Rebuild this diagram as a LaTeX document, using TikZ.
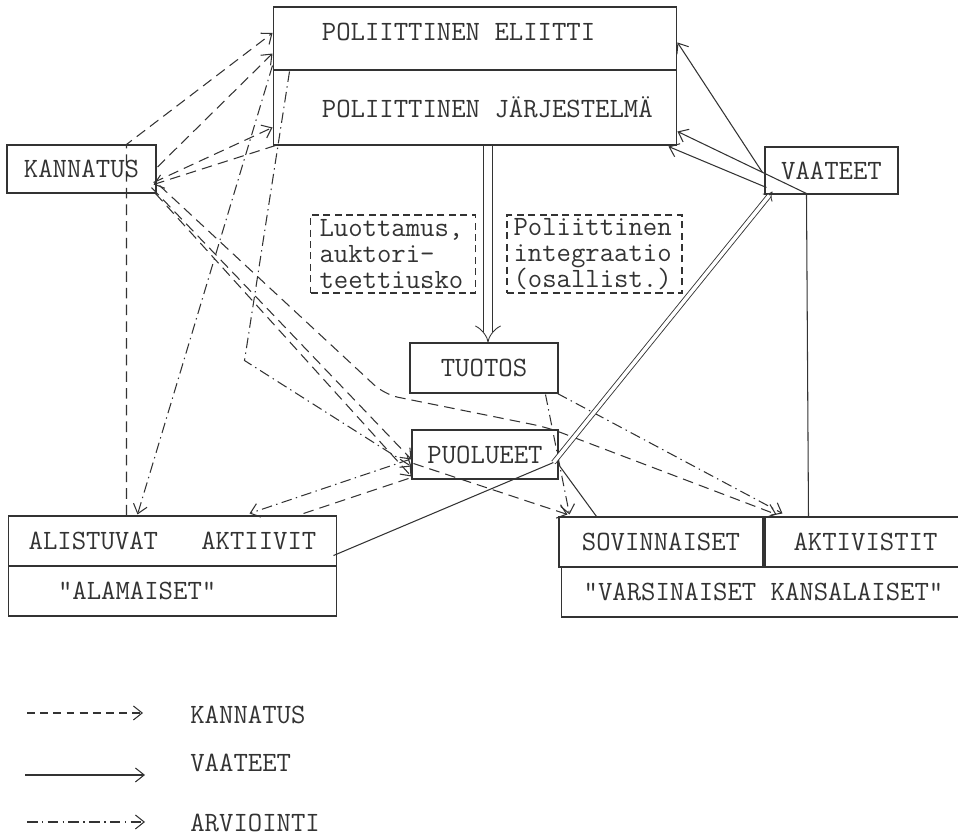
\documentclass[tikz,border=0pt]{standalone}
\usepackage{fontspec}
\usetikzlibrary{calc,arrows.meta}
\colorlet{ink}{black!80}
\newcommand{\boxfont}{\ttfamily\fontsize{15.9pt}{15pt}\selectfont}
\tikzset{
	box/.style={draw=ink, line width=0.6pt, minimum height=1cm, inner sep=0pt, font=\boxfont, text=ink},
	dbox/.style={box, dash pattern=on 4pt off 2.5pt, align=left},
	lbl/.style={font=\boxfont, text=ink, inner sep=0pt},
	kan/.style={ink, line width=0.6pt, dash pattern=on 6pt off 3.5pt},
	vaa/.style={ink, line width=0.6pt},
	arv/.style={ink, line width=0.6pt, dash pattern=on 6pt off 2.5pt on 0.8pt off 2.5pt},
	arr/.style={-{Straight Barb[length=5pt,width=8pt]}},
	dbl/.style={draw=ink, double=white, line width=0.5pt, -{Implies}},
}

\begin{document}
\begin{tikzpicture}[x=0.02cm, y=-0.02cm]
	\useasboundingbox (0,0) rectangle (958,837);
	
	\node[box, minimum width=8.08cm, minimum height=1.26cm] (elite) at (475,38.5) {};
	\node[box, minimum width=8.08cm, minimum height=1.5cm] (sys) at (475,107.5) {};
	\node[lbl, anchor=west] (eliteT) at ($(elite.west)+(49,-6.5)$) {POLIITTINEN ELIITTI};
	\node[lbl, anchor=west] (sysT) at ($(sys.west)+(49,0)$) {POLIITTINEN JÄRJESTELMÄ};
	
	\node[box, minimum width=2.98cm, minimum height=0.96cm] (kann) at (81.5,169) {KANNATUS};
	\node[box, minimum width=2.66cm, minimum height=0.94cm] (vaat) at (831.5,170.5) {VAATEET};
	
	\node[dbox, text width=2.94cm, inner xsep=0.18cm, minimum height=1.56cm] (luot) at (393,254) {Luottamus,\\auktori-\\teettiusko};
	\node[dbox, text width=3.24cm, inner xsep=0.13cm, minimum height=1.56cm] (inte) at (594.5,254) {Poliittinen\\integraatio\\(osallist.)};
	
	\node[box, minimum width=2.96cm] (tuot) at (484,368) {TUOTOS};
	\node[box, minimum width=2.92cm, minimum height=0.98cm] (puol) at (485,454.5) {PUOLUEET};
	
	\node[box, minimum width=6.58cm] (alis) at (172.5,541) {ALISTUVAT\ \ \ AKTIIVIT};
	\node[box, minimum width=6.58cm, text width=4.58cm, inner xsep=1cm, align=left] (alam) at (172.5,591) {"ALAMAISET"};
	
	\node[box, minimum width=4.08cm] (sov) at (661,542) {SOVINNAISET};
	\node[box, minimum width=4.02cm] (akt) at (865.5,542) {AKTIVISTIT};
	\node[box, minimum width=8.1cm] (kans) at (763.5,592) {"VARSINAISET KANSALAISET"};
	
	\coordinate (pp) at ($(puol.east)+(-5,8)$);
	
	\draw[kan, arr] ($(alis.north west)+(119,0)$) -- ($(kann.north west)+(120,0)$) -- ($(elite.west)+(0,-5.5)$);
	\draw[kan, arr] ($(kann.east)+(1,-2)$) -- ($(elite.south west)+(0,-17)$);
	\draw[kan, arr] ($(kann.south east)+(-3,-11)$) -- ($(sys.west)+(0,20)$);
	\draw[kan, arr] ($(sys.south west)+(3,0)$) -- ($(kann.south east)+(-3,-9)$);
	\draw[kan, arr] ($(kann.south east)+(-5,-6)$) -- ($(puol.west)+(0,5)$);
	\draw[kan, arr] ($(kann.south east)+(-1,0)$) -- ($(puol.south west)+(0,-3)$);
	\draw[kan, arr, rounded corners=8pt] ($(kann.south east)+(3,-8)$) -- ($(tuot.south west)+(-25,1)$) -- ($(puol.north east)+(-11,-2)$) -- ($(akt.north west)+(12,-2)$);
	\draw[kan, arr] ($(puol.west)+(2,9)$) -- ($(sov.north west)+(9,-2)$);
	\draw[kan] ($(alis.north east)+(-34,-2)$) -- ($(puol.south west)+(0,-2)$);
	
	\draw[arv, arr] ($(elite.south west)+(0,-5)$) -- ($(alis.north west)+(130,-1)$);
	\draw[arv, arr] ($(sys.north west)+(17,2)$) -- ($(sys.south west)+(-28,215)$) -- ($(puol.west)+(0,12)$);
	\draw[arv, arr] ($(tuot.south east)+(-1,0)$) -- ($(akt.north west)+(18,-3)$);
	\draw[arv, arr] ($(tuot.south east)+(-13,1)$) -- ($(sov.north west)+(11,-2)$);
	\draw[arv, arr] ($(puol.west)+(-2,5)$) -- ($(alis.north west)+(242,-2)$);
	
	\draw[vaa] ($(alis.south east)+(-4,-11)$) -- (pp);
	\draw[dbl, double distance=0.07cm] (pp) -- ($(vaat.south west)+(8,-3)$);
	\draw[vaa, arr] ($(vaat.south west)+(2,-7)$) -- ($(sys.south east)+(-9,1)$);
	\draw[vaa, arr] ($(vaat.west)+(-2,2)$) -- ($(elite.east)+(0,4)$);
	\draw[vaa, arr] ($(akt.north west)+(44,0)$) -- ($(vaat.south west)+(42,-1)$) -- ($(sys.east)+(0,24)$);
	\draw[vaa] ($(puol.east)+(0,10)$) -- ($(sov.north west)+(38,0)$);
	
	\draw[dbl, double distance=0.17cm] ($(sys.south)+(13,0)$) -- ($(tuot.north)+(4,0)$);
	
	\coordinate (lk1) at (27,713);
	\coordinate (lk2) at (143,713);
	\coordinate (lv1) at (25,775);
	\coordinate (lv2) at (145,775);
	\coordinate (la1) at (27,822);
	\coordinate (la2) at (145,822);
	\draw[kan, arr, dash pattern=on 4.5pt off 3pt] (lk1) -- (lk2);
	\draw[vaa, arr] (lv1) -- (lv2);
	\draw[arv, arr] (la1) -- (la2);
	\node[lbl, anchor=west] (legK) at (190,715) {KANNATUS};
	\node[lbl, anchor=west] (legV) at (190,763) {VAATEET};
	\node[lbl, anchor=west] (legA) at (190,823) {ARVIOINTI};
\end{tikzpicture}
\end{document}
